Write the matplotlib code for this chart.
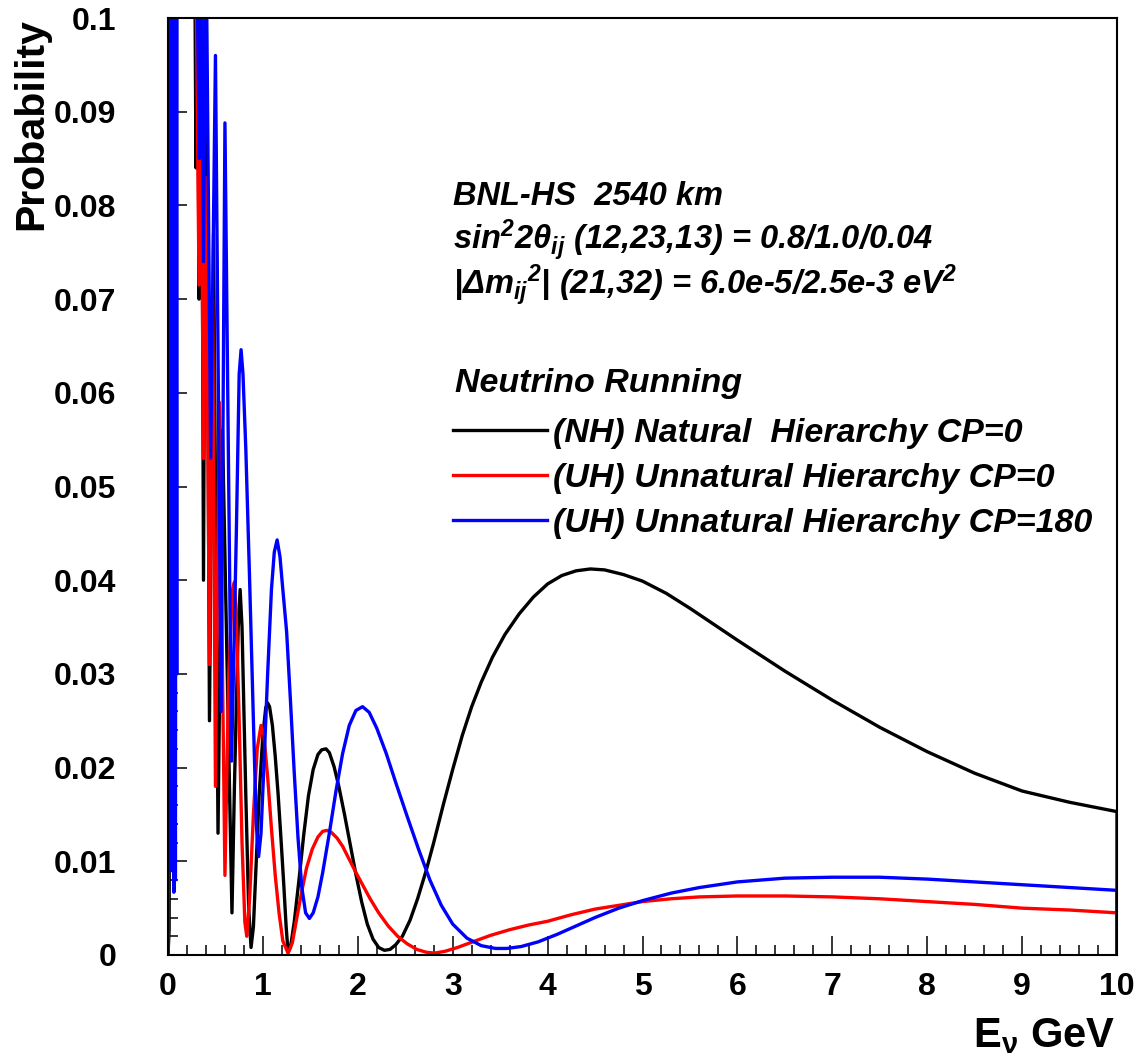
import numpy as np
import matplotlib
matplotlib.use("Agg")
import matplotlib.pyplot as plt
from matplotlib.ticker import MultipleLocator, FuncFormatter

plt.rcParams['font.family'] = ['Liberation Sans', 'DejaVu Sans']
plt.rcParams['mathtext.fontset'] = 'custom'
plt.rcParams['mathtext.rm'] = 'Liberation Sans:bold:italic'
plt.rcParams['mathtext.it'] = 'Liberation Sans:bold:italic'
plt.rcParams['mathtext.bf'] = 'Liberation Sans:bold'

# values (E in GeV, probability); 0.11 = off the top
nh_E = [0.0, 0.012, 0.03, 0.28, 0.295, 0.31, 0.327, 0.35, 0.374, 0.40, 0.437, 0.48,
        0.527, 0.574, 0.674, 0.70, 0.74, 0.76, 0.78, 0.82, 0.85, 0.875, 0.90, 0.93,
        0.96, 1.0, 1.03, 1.05, 1.07, 1.10, 1.13, 1.16, 1.19, 1.22, 1.245, 1.265, 1.29,
        1.33, 1.38, 1.43, 1.48, 1.53, 1.58, 1.62, 1.665, 1.70, 1.75, 1.80, 1.86, 1.92,
        1.98, 2.04, 2.10, 2.16, 2.22, 2.28, 2.34, 2.40, 2.47, 2.55, 2.63, 2.72, 2.80,
        2.90, 3.0, 3.1, 3.2, 3.3, 3.42, 3.55, 3.7, 3.85, 4.0, 4.15, 4.3, 4.45, 4.6,
        4.8, 5.0, 5.25, 5.5, 5.75, 6.0, 6.5, 7.0, 7.5, 8.0, 8.5, 9.0, 9.5, 10.0, 10.0]
nh_P = [0.0, 0.0027, 0.11, 0.11, 0.084, 0.11, 0.070, 0.11, 0.040, 0.105, 0.025, 0.077,
        0.013, 0.056, 0.0045, 0.018, 0.035, 0.0390, 0.035, 0.017, 0.005, 0.0008, 0.003, 0.010,
        0.017, 0.0235, 0.0264, 0.0269, 0.0265, 0.0245, 0.0212, 0.0172, 0.0125, 0.0075, 0.0030, 0.0003, 0.0008,
        0.0035, 0.0080, 0.0128, 0.0170, 0.0198, 0.0214, 0.0219, 0.0220, 0.0216, 0.0201, 0.0180, 0.0150, 0.0118,
        0.0086, 0.0057, 0.0033, 0.0017, 0.0008, 0.0005, 0.0006, 0.0011, 0.0020, 0.0037, 0.0060, 0.0090, 0.0120,
        0.0160, 0.0198, 0.0234, 0.0265, 0.0291, 0.0318, 0.0342, 0.0364, 0.0382, 0.0396, 0.0405, 0.0410, 0.0412, 0.0411,
        0.0406, 0.0399, 0.0386, 0.0370, 0.0353, 0.0336, 0.0303, 0.0272, 0.0243, 0.0217, 0.0194, 0.0175, 0.0163, 0.0153, 0.0]

uh0_E = [0.0, 0.035, 0.045, 0.06, 0.29, 0.327, 0.345, 0.374, 0.40, 0.437, 0.47, 0.50,
         0.54, 0.60, 0.64, 0.68, 0.70, 0.72, 0.75, 0.78, 0.81, 0.83, 0.86, 0.90, 0.94,
         0.98, 1.01, 1.05, 1.09, 1.13, 1.17, 1.21, 1.265, 1.31, 1.36, 1.41, 1.46, 1.52,
         1.58, 1.63, 1.675, 1.72, 1.78, 1.84, 1.90, 1.97, 2.05, 2.13, 2.22, 2.32, 2.42,
         2.52, 2.62, 2.72, 2.81, 2.92, 3.05, 3.21, 3.4, 3.6, 3.8, 4.0, 4.25, 4.5, 4.75,
         5.0, 5.3, 5.6, 6.0, 6.5, 7.0, 7.5, 8.0, 8.5, 9.0, 9.5, 10.0, 10.0]
uh0_P = [0.0, 0.11, 0.009, 0.11, 0.11, 0.0715, 0.098, 0.053, 0.083, 0.031, 0.070, 0.018,
         0.059, 0.0085, 0.030, 0.0390, 0.0398, 0.036, 0.025, 0.012, 0.0035, 0.0020, 0.006, 0.015, 0.022,
         0.0245, 0.0235, 0.019, 0.0135, 0.0085, 0.0045, 0.0015, 0.0002, 0.0013, 0.0041, 0.0068, 0.0093, 0.0113,
         0.0126, 0.0132, 0.0133, 0.0131, 0.0125, 0.0116, 0.0104, 0.0090, 0.0075, 0.0060, 0.0045, 0.0031, 0.0020,
         0.0012, 0.0006, 0.0003, 0.0002, 0.0004, 0.0008, 0.0014, 0.0021, 0.0027, 0.0032, 0.0036, 0.0043, 0.0049, 0.0053,
         0.0057, 0.0060, 0.0062, 0.0063, 0.0063, 0.0062, 0.0060, 0.0057, 0.0054, 0.0050, 0.0048, 0.0045, 0.0]

uh180_E = [0.0, 0.005, 0.012, 0.02, 0.028, 0.036, 0.045, 0.053, 0.062, 0.07, 0.078, 0.086,
           0.092, 0.095, 0.30, 0.33, 0.35, 0.374, 0.40, 0.45, 0.50, 0.56, 0.60, 0.67,
           0.72, 0.75, 0.77, 0.79, 0.82, 0.86, 0.90, 0.93, 0.955, 0.98, 1.01, 1.05, 1.09,
           1.12, 1.15, 1.18, 1.21, 1.25, 1.29, 1.33, 1.37, 1.41, 1.45, 1.49, 1.53, 1.58,
           1.63, 1.70, 1.77, 1.84, 1.91, 1.98, 2.05, 2.12, 2.20, 2.30, 2.40, 2.52, 2.64,
           2.76, 2.88, 3.0, 3.15, 3.3, 3.45, 3.57, 3.72, 3.9, 4.1, 4.3, 4.5, 4.75, 5.0,
           5.3, 5.6, 6.0, 6.5, 7.0, 7.5, 8.0, 8.5, 9.0, 9.5, 10.0, 10.0]
uh180_P = [0.0, 0.11, 0.012, 0.11, 0.009, 0.11, 0.011, 0.11, 0.0067, 0.11, 0.008, 0.11,
           0.030, 0.11, 0.11, 0.085, 0.11, 0.074, 0.11, 0.053, 0.096, 0.026, 0.0888, 0.0207,
           0.045, 0.062, 0.0646, 0.062, 0.054, 0.040, 0.025, 0.014, 0.0105, 0.013, 0.020, 0.030, 0.039,
           0.0430, 0.0443, 0.0425, 0.0390, 0.0345, 0.0272, 0.0195, 0.0125, 0.0072, 0.0045, 0.0039, 0.0045, 0.0062,
           0.0088, 0.0130, 0.0175, 0.0215, 0.0245, 0.0261, 0.0265, 0.0259, 0.0242, 0.0215, 0.0184, 0.0148, 0.0113,
           0.0080, 0.0053, 0.0033, 0.0018, 0.0010, 0.0007, 0.0007, 0.0009, 0.0014, 0.0022, 0.0031, 0.0040, 0.0050, 0.0058,
           0.0066, 0.0072, 0.0078, 0.0082, 0.0083, 0.0083, 0.0081, 0.0078, 0.0075, 0.0072, 0.0069, 0.0]

labels = ['(NH) Natural  Hierarchy CP=0',
          '(UH) Unnatural Hierarchy CP=0',
          '(UH) Unnatural Hierarchy CP=180']

W, H = 1140, 1063
fig = plt.figure(figsize=(W / 100, H / 100), dpi=100)
ax = fig.add_axes([168 / W, 1 - 955 / H, (1117 - 168) / W, (955 - 18) / H])

l1, = ax.plot(nh_E, nh_P, color='black', lw=2.4)
l2, = ax.plot(uh0_E, uh0_P, color='#ff0000', lw=2.4)
l3, = ax.plot(uh180_E, uh180_P, color='#0000ff', lw=2.4)

ax.set_xlim(0, 10)
ax.set_ylim(0, 0.1)
ax.xaxis.set_major_locator(MultipleLocator(1))
ax.xaxis.set_minor_locator(MultipleLocator(0.2))
ax.yaxis.set_major_locator(MultipleLocator(0.01))
ax.yaxis.set_minor_locator(MultipleLocator(0.002))
ax.yaxis.set_major_formatter(FuncFormatter(lambda v, p: '%g' % round(v, 3)))
ax.xaxis.set_major_formatter(FuncFormatter(lambda v, p: '%g' % v))
ax.tick_params(which='both', direction='in', top=False, right=False, width=1.1)
ax.tick_params(which='major', length=14)
ax.tick_params(which='minor', length=7)
ax.tick_params(axis='x', which='major', pad=12, labelsize=23)
ax.tick_params(axis='y', which='major', pad=37, labelsize=23)
for lab in ax.get_xticklabels() + ax.get_yticklabels():
    lab.set_fontweight('bold')
for s in ax.spines.values():
    s.set_linewidth(1.5)

# axis titles, ROOT style
fig.text(31 / W, 1 - 18 / H, 'Probability', rotation=90, ha='center', va='top',
         fontsize=29.5, fontweight='bold')
fig.text(1115 / W, 1 - 1047 / H, r'E$_{\mathbf{ν}}$ GeV', ha='right', va='baseline',
         fontsize=30, fontweight='bold')

# info block
info = ['BNL-HS  2540 km',
        r'sin$^{2}$2θ$_{ij}$ (12,23,13) = 0.8/1.0/0.04',
        r'|Δm$_{ij}$$^{2}$| (21,32) = 6.0e-5/2.5e-3 eV$^{2}$']
for i, t in enumerate(info):
    fig.text(453 / W, 1 - (205 + 45 * i) / H, t, fontsize=23.5, fontweight='bold',
             fontstyle='italic', va='baseline')

fig.text(455 / W, 1 - 392 / H, 'Neutrino Running', fontsize=24.5, fontweight='bold',
         fontstyle='italic', va='baseline')
leg = ax.legend([l1, l2, l3], labels, loc='upper left',
                bbox_to_anchor=(453 / W, 1 - 418 / H), bbox_transform=fig.transFigure,
                frameon=False, borderpad=0, borderaxespad=0, handlelength=2.75,
                handletextpad=0.2, labelspacing=0.41,
                prop={'size': 24.5, 'weight': 'bold', 'style': 'italic'})

fig.savefig('out.png', dpi=100)
